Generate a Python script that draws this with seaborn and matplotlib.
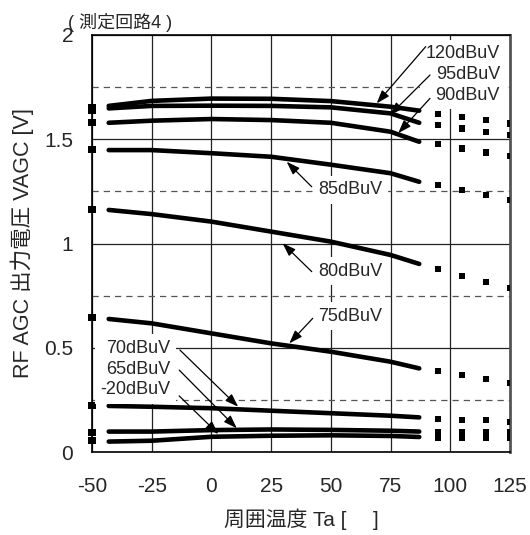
import numpy as np
import pandas as pd
import seaborn as sns
import matplotlib
matplotlib.use('Agg')
import matplotlib.pyplot as plt

sns.set_style('white')
plt.rcParams['font.family'] = ['Liberation Sans', 'Noto Sans CJK JP']
plt.rcParams['axes.unicode_minus'] = False

# input levels (one curve each)
levels = ['120dBuV', '95dBuV', '90dBuV', '85dBuV', '80dBuV', '75dBuV', '70dBuV', '65dBuV', '-20dBuV']

# measured range (solid)
temp_meas = [-43, -25, 0, 25, 50, 75, 87]
v120 = [1.660, 1.684, 1.695, 1.694, 1.683, 1.656, 1.637]
v95 = [1.648, 1.660, 1.661, 1.660, 1.653, 1.624, 1.579]
v90 = [1.579, 1.589, 1.597, 1.592, 1.579, 1.536, 1.488]
v85 = [1.448, 1.448, 1.433, 1.416, 1.378, 1.337, 1.296]
v80 = [1.161, 1.141, 1.105, 1.057, 1.009, 0.945, 0.902]
v75 = [0.638, 0.617, 0.569, 0.521, 0.481, 0.433, 0.401]
v70 = [0.221, 0.217, 0.210, 0.198, 0.186, 0.174, 0.166]
v65 = [0.098, 0.098, 0.105, 0.108, 0.106, 0.102, 0.098]
vm20 = [0.050, 0.054, 0.073, 0.078, 0.080, 0.077, 0.072]

# outside range (dotted points)
temp_ext = [-50, 95, 105, 115, 125]
e120 = [1.652, 1.620, 1.608, 1.592, 1.576]
e95 = [1.638, 1.567, 1.552, 1.534, 1.520]
e90 = [1.580, 1.477, 1.456, 1.436, 1.420]
e85 = [1.453, 1.280, 1.257, 1.233, 1.209]
e80 = [1.164, 0.876, 0.844, 0.814, 0.785]
e75 = [0.646, 0.390, 0.369, 0.350, 0.332]
e70 = [0.225, 0.158, 0.153, 0.153, 0.145]
e65 = [0.094, 0.096, 0.097, 0.097, 0.097]
em20 = [0.053, 0.070, 0.070, 0.070, 0.070]

meas = [v120, v95, v90, v85, v80, v75, v70, v65, vm20]
ext = [e120, e95, e90, e85, e80, e75, e70, e65, em20]

df_meas = pd.concat([pd.DataFrame({'Ta': temp_meas, 'V': v, 'level': lv}) for lv, v in zip(levels, meas)])
df_ext = pd.concat([pd.DataFrame({'Ta': temp_ext, 'V': v, 'level': lv}) for lv, v in zip(levels, ext)])

fig = plt.figure(figsize=(5.3, 5.35), dpi=100)
ax = fig.add_axes([92/530, 1-452/535, 418/530, 417/535])

sns.lineplot(data=df_meas, x='Ta', y='V', units='level', estimator=None, sort=False,
             color='black', lw=3.3, legend=False, ax=ax, zorder=3)
left = df_ext[df_ext['Ta'] < 0]
right = df_ext[df_ext['Ta'] > 0]
sns.scatterplot(data=left, x='Ta', y='V', marker='s', s=26, color='black', edgecolor='none',
                legend=False, ax=ax, clip_on=False, zorder=3)
sns.scatterplot(data=right, x='Ta', y='V', marker='s', s=20, color='black', edgecolor='none',
                legend=False, ax=ax, zorder=3)

ax.set_xlim(-50, 125)
ax.set_ylim(0, 2)
ax.set_xticks(np.arange(-50, 126, 25))
ax.set_yticks([0, 0.5, 1, 1.5, 2])
ax.set_yticklabels(['0', '0.5', '1', '1.5', '2'])
ax.set_yticks([0.25, 0.75, 1.25, 1.75], minor=True)
ax.grid(which='major', color='#222222', lw=0.9)
ax.grid(which='minor', axis='y', color='#555555', lw=0.9, ls=(0, (5, 4)))
ax.set_axisbelow(True)
ax.tick_params(axis='y', which='both', length=0, pad=13.5, labelsize=15)
ax.tick_params(axis='x', which='both', length=0, pad=18, labelsize=15)
for s in ['left', 'bottom', 'top']:
    ax.spines[s].set_color('black')
    ax.spines[s].set_linewidth(1.2)
ax.spines['right'].set_color('#555555')
ax.spines['right'].set_linewidth(2)

ax.set_xlabel('周囲温度 Ta [\u3000 ]', fontsize=15, labelpad=9)
ax.set_ylabel('RF AGC 出力電圧 VAGC [V]', fontsize=15.5, labelpad=7)

box = dict(boxstyle='square,pad=0.3', fc='white', ec='none')
ax.text(120.8, 1.811, '120dBuV\n95dBuV\n90dBuV', ha='right', va='center', multialignment='right',
        fontsize=13, linespacing=1.3, bbox=box, zorder=4)
ax.text(-17.3, 0.398, '70dBuV\n65dBuV\n-20dBuV', ha='right', va='center', multialignment='right',
        fontsize=13, linespacing=1.3, bbox=box, zorder=4)
ax.text(44.6, 1.257, '85dBuV', ha='left', va='center', fontsize=13, bbox=box, zorder=4)
ax.text(44.6, 0.868, '80dBuV', ha='left', va='center', fontsize=13, bbox=box, zorder=4)
ax.text(44.6, 0.652, '75dBuV', ha='left', va='center', fontsize=13, bbox=box, zorder=4)

arrows = [
    ((89.7, 1.944), (69.2, 1.672)),
    ((91.5, 1.808), (74.7, 1.616)),
    ((91.5, 1.696), (78.2, 1.529)),
    ((42.0, 1.272), (31.5, 1.392)),
    ((42.0, 0.865), (29.8, 1.001)),
    ((42.4, 0.641), (32.6, 0.521)),
    ((-13.2, 0.489), (11.2, 0.217)),
    ((-13.5, 0.393), (10.6, 0.114)),
    ((-13.5, 0.269), (2.9, 0.086)),
]
for start, tip in arrows:
    ax.annotate('', xy=tip, xytext=start, zorder=5,
                arrowprops=dict(arrowstyle='-|>,head_length=1.0,head_width=0.35', mutation_scale=8,
                                color='black', lw=0.9, shrinkA=0, shrinkB=0))

fig.text(68/530, 1-22/535, '( 測定回路4 )', ha='left', va='center', fontsize=13)

fig.savefig('out.png', dpi=100)
